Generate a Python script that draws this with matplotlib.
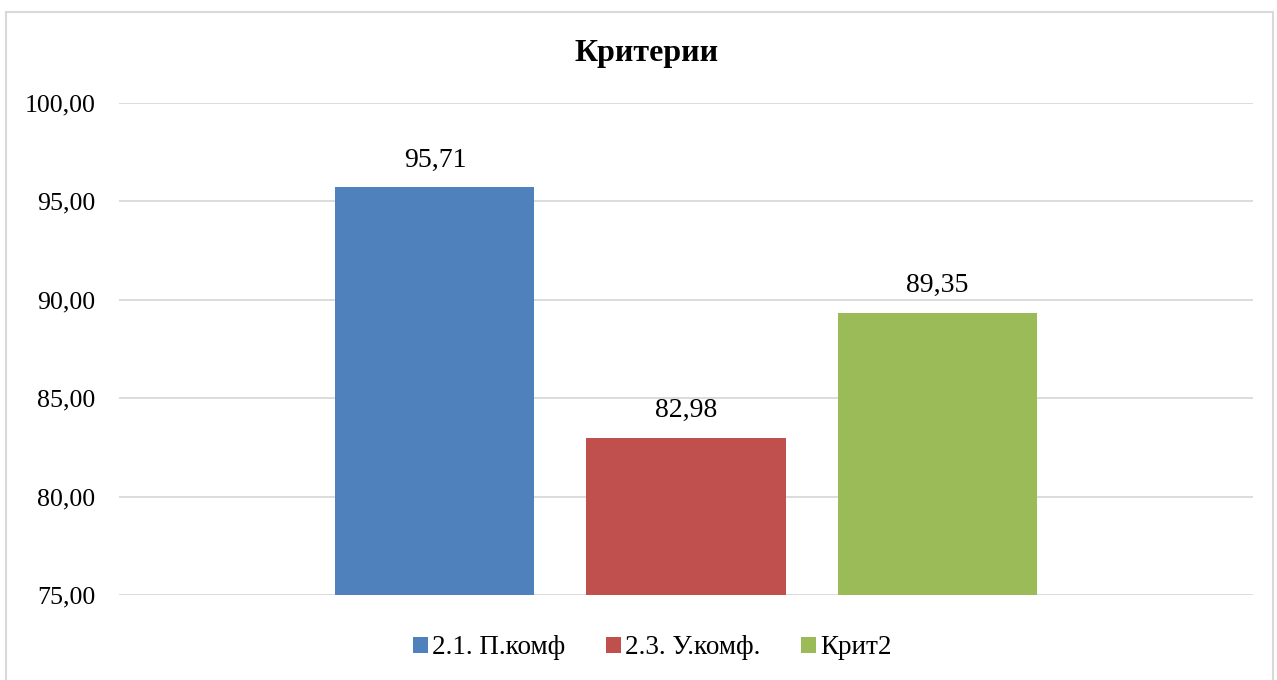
import numpy as np
import matplotlib.pyplot as plt
from matplotlib.patches import Rectangle

plt.rcParams['font.family'] = ['Liberation Serif', 'DejaVu Serif']

# данные
series = ['2.1. П.комф', '2.3. У.комф.', 'Крит2']
values = [95.71, 82.98, 89.35]
colors = ['#4F81BD', '#C0504D', '#9BBB59']
yticks = [75, 80, 85, 90, 95, 100]

fig = plt.figure(figsize=(12.77, 6.8), dpi=100)
ax = fig.add_axes([0.0932, 0.125, 0.8880, 0.7235])

# рамка вокруг диаграммы
fig.patches.append(Rectangle((6 / 1277, -0.05), 1267 / 1277, 1 - 12 / 680 + 0.05,
                             transform=fig.transFigure, fill=False,
                             edgecolor='#D9D9D9', lw=1.5, zorder=0))

width = 0.1755
offsets = [-0.2214, 0.0, 0.2214]
for name, v, c, off in zip(series, values, colors, offsets):
    ax.bar(off, v - 75, bottom=75, width=width, color=c, label=name, zorder=3)
    ax.text(off, v + 0.75, ('%.2f' % v).replace('.', ','), ha='center', va='bottom',
            fontsize=20)

ax.set_xlim(-0.5, 0.5)
ax.set_ylim(75, 100)
ax.set_yticks(yticks)
ax.set_yticklabels([('%.2f' % t).replace('.', ',') for t in yticks], fontsize=18.6)
ax.set_xticks([])
ax.tick_params(axis='y', length=0, pad=17)
ax.grid(axis='y', color='#D9D9D9', lw=1.3, zorder=0)
for s in ax.spines.values():
    s.set_visible(False)

fig.text(0.506, 1 - 54 / 680, 'Критерии', ha='center', va='center',
         fontsize=23, fontweight='bold')

fig.legend(loc='center', bbox_to_anchor=(0.511, 1 - 648 / 680), ncol=3, frameon=False,
           fontsize=19.5, handlelength=0.55, handleheight=0.55, handletextpad=0.15,
           columnspacing=1.5)

fig.savefig('out.png', dpi=100)
